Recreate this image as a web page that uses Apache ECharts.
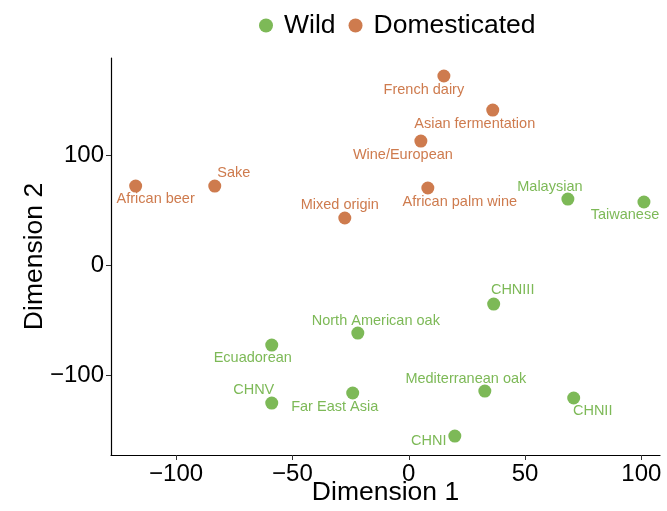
<!DOCTYPE html>
<html>
<head>
<meta charset="utf-8">
<script src="https://cdn.jsdelivr.net/npm/echarts@6/dist/echarts.min.js"></script>
<style>
  html, body { margin: 0; padding: 0; background: #fff; }
  #chart { width: 667px; height: 511px; }
</style>
</head>
<body>
<div id="chart"></div>
<script>
// strains, MDS coordinates
const names = ['African beer', 'Sake', 'Mixed origin', 'African palm wine', 'Wine/European',
    'French dairy', 'Asian fermentation', 'Malaysian', 'Taiwanese', 'CHNIII',
    'North American oak', 'Ecuadorean', 'Mediterranean oak', 'CHNII', 'CHNV',
    'Far East Asia', 'CHNI'];
const dim1 = [-117.4, -83.4, -27.5, 8.2, 5.2, 15.1, 36.1, 68.4, 101.1, 36.5,
    -21.9, -58.9, 32.7, 70.9, -58.9, -24.1, 19.8];
const dim2 = [71.9, 71.9, 42.9, 70.1, 112.7, 171.7, 140.8, 60.1, 57.4, -35.1,
    -61.4, -72.3, -114, -120.3, -124.9, -115.8, -154.8];
const groups = ['Domesticated', 'Domesticated', 'Domesticated', 'Domesticated', 'Domesticated',
    'Domesticated', 'Domesticated', 'Wild', 'Wild', 'Wild',
    'Wild', 'Wild', 'Wild', 'Wild', 'Wild', 'Wild', 'Wild'];
const legendNames = ['Wild', 'Domesticated'];
const xTicks = [-100, -50, 0, 50, 100];
const yTicks = [-100, 0, 100];

// label placement (px, from the point centre), like ggrepel did it
const labelNudge = {
    'African beer': [20, 13], 'Sake': [19, -13], 'Mixed origin': [-5, -13],
    'African palm wine': [32, 14], 'Wine/European': [-18, 14], 'French dairy': [-20, 14],
    'Asian fermentation': [-18, 14], 'Malaysian': [-18, -12], 'Taiwanese': [-19, 13],
    'CHNIII': [19, -14], 'North American oak': [18, -12], 'Ecuadorean': [-19, 13],
    'Mediterranean oak': [-19, -12], 'CHNII': [19, 13], 'CHNV': [-18, -13],
    'Far East Asia': [-18, 14], 'CHNI': [-26, 5]
};

const colors = { 'Wild': '#7db957', 'Domesticated': '#ce7b4e' };
const font = '"Liberation Sans", Arial, Helvetica, sans-serif';
const minus = v => String(v).replace('-', '\u2212');

function groupData(g) {
    let out = [];
    for (let i = 0; i < names.length; i++) {
        if (groups[i] !== g) continue;
        out.push({
            name: names[i],
            value: [dim1[i], dim2[i]],
            label: { offset: labelNudge[names[i]] }
        });
    }
    return out;
}

let series = legendNames.map(g => ({
    name: g,
    type: 'scatter',
    symbolSize: 13,
    itemStyle: { color: colors[g], opacity: 1 },
    label: {
        show: true,
        position: 'inside',
        formatter: p => p.name,
        color: colors[g],
        fontFamily: font,
        fontSize: 14.5
    },
    emphasis: { disabled: true },
    data: groupData(g)
}));

let axisCommon = {
    type: 'value',
    nameLocation: 'middle',
    nameMoveOverlap: false,
    nameTextStyle: { color: '#000', fontSize: 26.5, fontFamily: font },
    axisLine: { show: true, onZero: false, lineStyle: { color: '#000', width: 1.2 } },
    splitLine: { show: false }
};

let option = {
    animation: false,
    backgroundColor: '#fff',
    grid: { left: 111, top: 58, width: 549, height: 397, outerBoundsMode: 'none' },
    legend: {
        data: legendNames,
        top: 7,
        left: 254,
        icon: 'circle',
        itemWidth: 14,
        itemHeight: 14,
        itemGap: 13,
        textStyle: { color: '#000', fontSize: 26.5, fontFamily: font, padding: [0, 0, 0, 6] }
    },
    xAxis: Object.assign({}, axisCommon, {
        name: 'Dimension 1',
        nameGap: 24,
        min: -128,
        max: 108,
        axisTick: { show: true, length: 5, customValues: xTicks, lineStyle: { color: '#333' } },
        axisLabel: { customValues: xTicks, formatter: minus, color: '#000', fontSize: 24, fontFamily: font, margin: 7 }
    }),
    yAxis: Object.assign({}, axisCommon, {
        name: 'Dimension 2',
        nameGap: 63,
        min: -172,
        max: 188,
        axisTick: { show: true, length: 5, customValues: yTicks, lineStyle: { color: '#333' } },
        axisLabel: { customValues: yTicks, formatter: minus, color: '#000', fontSize: 24, fontFamily: font, margin: 7 }
    }),
    series: series
};

echarts.init(document.getElementById('chart')).setOption(option);
</script>
</body>
</html>
